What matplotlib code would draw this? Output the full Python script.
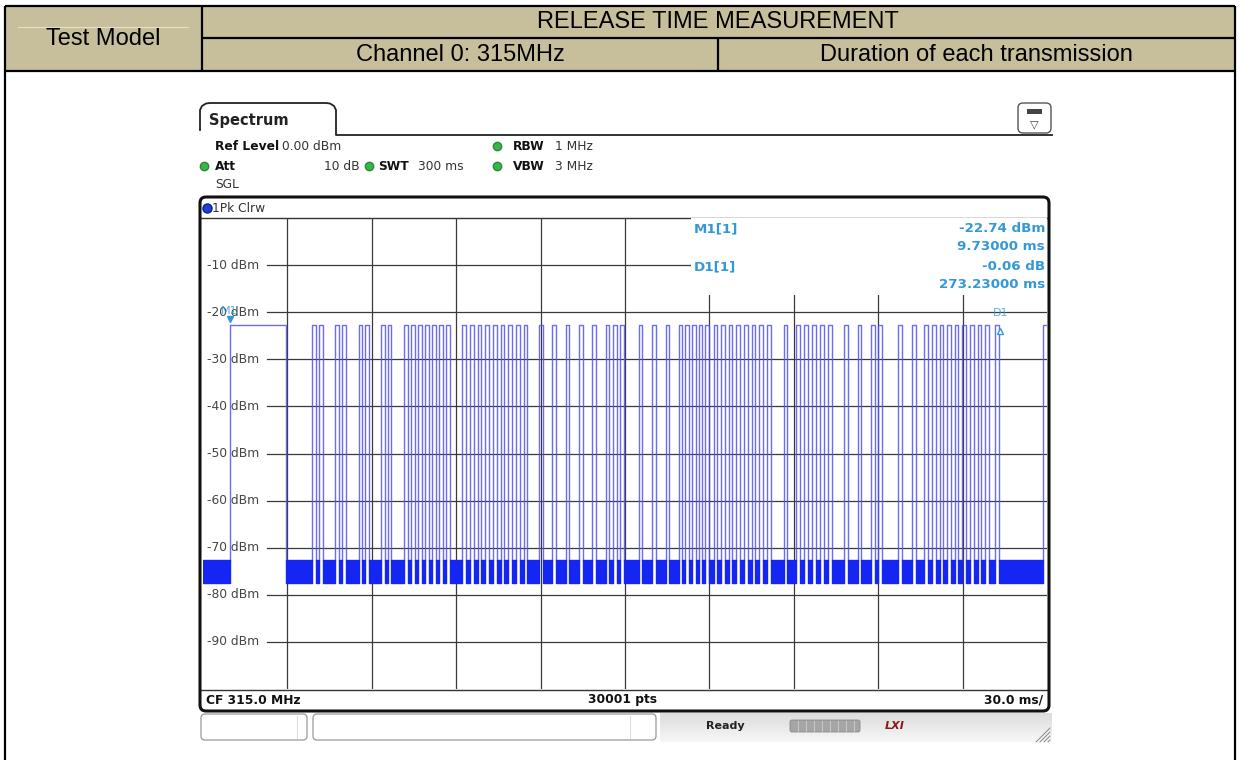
import numpy as np
import matplotlib.pyplot as plt
from matplotlib.patches import Rectangle, FancyBboxPatch

W, H = 1240, 760

# header texts
title = "RELEASE TIME MEASUREMENT"
left_cell = "Test Model"
sub_cells = ["Channel 0: 315MHz", "Duration of each transmission"]

# instrument settings
ref_level = "0.00 dBm"
att = "10 dB"
swt = "300 ms"
rbw = "1 MHz"
vbw = "3 MHz"

# trace (time in ms, level in dBm)
first_burst = (9.73, 29.5)
pulse_starts = [38.9, 41.3, 47.0, 49.4, 55.3, 57.6, 63.3, 65.7,
                71.5, 74.0, 76.5, 78.9, 81.4, 83.9, 86.4,
                92.2, 94.9, 97.6, 100.4, 103.1, 105.8, 108.5, 111.2, 114.0,
                119.4, 124.1, 128.9, 133.6, 138.3, 143.1, 145.7, 148.3,
                154.9, 159.6, 164.4, 169.1, 171.5, 173.9, 176.2, 178.6,
                181.5, 184.1, 186.9, 189.6, 192.3, 195.0, 197.8, 200.5,
                206.4, 210.9, 213.7, 216.6, 219.4, 222.3, 227.9, 232.7,
                237.4, 240.1, 247.2, 252.0, 256.3, 259.1, 261.8, 264.5,
                267.2, 269.9, 272.7, 275.4, 278.1, 281.6]
pulse_width = 1.3
last_rise = 298.6
pulse_top = -22.74
noise_lo, noise_hi = -77.4, -72.6
levels = [-10, -20, -30, -40, -50, -60, -70, -80, -90]
time_div = [30, 60, 90, 120, 150, 180, 210, 240, 270]

m1 = (9.73, -22.74)
d1_t = 9.73 + 273.23

beige = "#c7bf9b"
mcol = "#3399d6"
tcol = "#5252f2"
ncol = "#1626f2"

fig = plt.figure(figsize=(W / 100, H / 100), dpi=100)
bg = fig.add_axes([0, 0, 1, 1])
bg.set_xlim(0, W)
bg.set_ylim(H, 0)
bg.axis("off")

# ---- header table ----
bg.add_patch(Rectangle((5, 6), 1230, 65, fc=beige, ec="none"))
hdr = dict(color="black", lw=1.6, solid_capstyle="butt")
bg.plot([5, 1235], [6, 6], **hdr)
bg.plot([5, 1235], [71, 71], **hdr)
bg.plot([202, 1235], [38, 38], **hdr)
bg.plot([5, 5], [6, 760], **hdr)
bg.plot([1235, 1235], [6, 760], **hdr)
bg.plot([202, 202], [6, 71], **hdr)
bg.plot([718, 718], [38, 71], **hdr)
bg.plot([18, 188], [27, 27], color="#e6e0c8", lw=0.8)
hfont = dict(family="Liberation Sans", size=17, ha="center", va="center")
bg.text(103, 39, left_cell, **hfont)
bg.text(718, 22, title, **hfont)
bg.text(460, 55, sub_cells[0], **hfont)
bg.text(976, 55, sub_cells[1], **hfont)

# ---- instrument window ----
tab_x = [200, 200, 202, 206, 210, 326, 330, 334, 336, 336, 1052]
tab_y = [130, 110, 106, 103.5, 103, 103, 103.5, 106, 110, 135, 135]
bg.plot(tab_x, tab_y, color="#222222", lw=1.3)
bg.text(209, 120, "Spectrum", fontsize=10.5, fontweight="bold", va="center", color="#222222")
bg.add_patch(FancyBboxPatch((1018, 103), 33, 30, boxstyle="round,pad=0,rounding_size=5",
                            fc="white", ec="#555555", lw=1.0))
bg.add_patch(Rectangle((1027, 109), 15, 5, fc="#444444", ec="none"))
bg.text(1034.5, 124, "\u25bd", fontsize=8, ha="center", va="center", color="#444444")

small = dict(fontsize=8.8, va="center", color="#333333")
bold = dict(fontsize=8.8, va="center", color="#111111", fontweight="bold")
dot = dict(marker="o", ms=6, color="#39b54a", mec="#2a8a36", lw=0)
bg.text(215, 146, "Ref Level", **bold)
bg.text(282, 146, ref_level, **small)
bg.plot([497], [146], **dot)
bg.text(513, 146, "RBW", **bold)
bg.text(555, 146, rbw, **small)
bg.plot([204], [166], **dot)
bg.text(215, 166, "Att", **bold)
bg.text(360, 166, att, ha="right", fontsize=8.8, va="center", color="#333333")
bg.plot([369], [166], **dot)
bg.text(378, 166, "SWT", **bold)
bg.text(418, 166, swt, **small)
bg.plot([497], [166], **dot)
bg.text(513, 166, "VBW", **bold)
bg.text(555, 166, vbw, **small)
bg.text(215, 185, "SGL", **small)

bg.add_patch(FancyBboxPatch((200, 197), 849, 514, boxstyle="round,pad=0,rounding_size=6",
                            fc="none", ec="#111111", lw=2.2, zorder=5))
bg.plot([207], [208], marker="o", ms=6.5, color="#1f3fd8", mec="#0b1f8a", lw=0)
bg.text(212, 208, "1Pk Clrw", fontsize=8.8, va="center", color="#333333")
bg.plot([201, 1048], [218, 218], color="#333333", lw=1.0)
bg.plot([201, 1048], [690, 690], color="#333333", lw=1.0)
bg.text(206, 700, "CF 315.0 MHz", fontsize=8.8, fontweight="bold", va="center", color="#111111")
bg.text(622, 700, "30001 pts", fontsize=8.8, fontweight="bold", va="center", ha="center", color="#111111")
bg.text(1043, 700, "30.0 ms/", fontsize=8.8, fontweight="bold", va="center", ha="right", color="#111111")

# status bar
grad = np.linspace(0.86, 0.97, 30).reshape(-1, 1)
bg.imshow(grad, extent=(660, 1052, 742, 713), cmap="gray", vmin=0, vmax=1, aspect="auto", zorder=0)
bg.add_patch(FancyBboxPatch((201, 714), 106, 26, boxstyle="round,pad=0,rounding_size=4",
                            fc="white", ec="#999999", lw=0.9))
bg.add_patch(FancyBboxPatch((313, 714), 343, 26, boxstyle="round,pad=0,rounding_size=4",
                            fc="white", ec="#999999", lw=0.9))
bg.plot([297, 297], [716, 738], color="#dddddd", lw=0.8)
bg.plot([630, 630], [716, 738], color="#dddddd", lw=0.8)
bg.text(706, 726, "Ready", fontsize=8, fontweight="bold", va="center", color="#222222")
bg.add_patch(FancyBboxPatch((790, 720), 70, 12, boxstyle="round,pad=0,rounding_size=2",
                            fc="#a5a5a5", ec="#8a8a8a", lw=0.6))
for xs in np.arange(798, 860, 8):
    bg.plot([xs, xs], [721, 731], color="#c8c8c8", lw=0.8)
bg.text(885, 726, "LXI", fontsize=8, fontweight="bold", style="italic", va="center", color="#8b1a1a")
for k in range(4):
    bg.plot([1036 + 4 * k, 1050], [742, 728 + 4 * k], color="#888888", lw=0.7)
bg.set_xlim(0, W)
bg.set_ylim(H, 0)

# ---- trace area ----
x0, x1, y0, y1 = 203, 1047, 218, 689
ax = fig.add_axes([x0 / W, 1 - y1 / H, (x1 - x0) / W, (y1 - y0) / H])
ax.set_xlim(0, 300)
ax.set_ylim(-100, 0)
ax.axis("off")

for lv in levels:
    ax.plot([22.8, 300], [lv, lv], color="#3a3a3a", lw=0.9, zorder=1)
    ax.text(1.3, lv, f"{lv} dBm", fontsize=8.8, va="center", color="#444444", zorder=1)
for t in time_div:
    ax.plot([t, t], [0, -100], color="#3a3a3a", lw=0.9, zorder=1)

# pulses and noise floor
bursts = [first_burst] + [(s, s + pulse_width) for s in pulse_starts]
px, py = [], []
for s, e in bursts:
    px += [s, s, e, e, np.nan]
    py += [noise_hi, pulse_top, pulse_top, noise_hi, np.nan]
px += [last_rise, last_rise, 300]
py += [noise_hi, pulse_top, pulse_top]
ax.plot(px, py, color=tcol, lw=1.0, alpha=0.85, zorder=2)

gaps = []
prev = 0.0
for s, e in bursts:
    gaps.append((prev, s - prev))
    prev = e
gaps.append((prev, last_rise - prev))
ax.broken_barh(gaps, (noise_lo, noise_hi - noise_lo), color=ncol, zorder=2)

# marker info box
ax.add_patch(Rectangle((173.6, -16.3), 126.4, 16.3, fc="white", ec="none", zorder=3))
mk = dict(fontsize=9.6, fontweight="bold", color=mcol, va="center", zorder=4)
ax.text(174.5, -2.3, "M1[1]", **mk)
ax.text(174.5, -10.4, "D1[1]", **mk)
ax.text(299.3, -2.3, "-22.74 dBm", ha="right", **mk)
ax.text(299.3, -6.1, "9.73000 ms", ha="right", **mk)
ax.text(299.3, -10.4, "-0.06 dB", ha="right", **mk)
ax.text(299.3, -14.2, "273.23000 ms", ha="right", **mk)

ax.plot([m1[0]], [m1[1] + 1.2], marker="v", ms=5, color=mcol, zorder=4)
ax.text(m1[0] - 0.3, m1[1] + 3.0, "M1", fontsize=8, color=mcol, ha="center", va="center", zorder=4, alpha=0.8)
ax.plot([d1_t + 0.4], [m1[1] - 1.2], marker="^", ms=4, color=mcol, mfc="white", zorder=4)
ax.text(d1_t + 0.4, m1[1] + 2.6, "D1", fontsize=8, color=mcol, ha="center", va="center", zorder=4, alpha=0.8)

fig.savefig("out.png", dpi=100)
